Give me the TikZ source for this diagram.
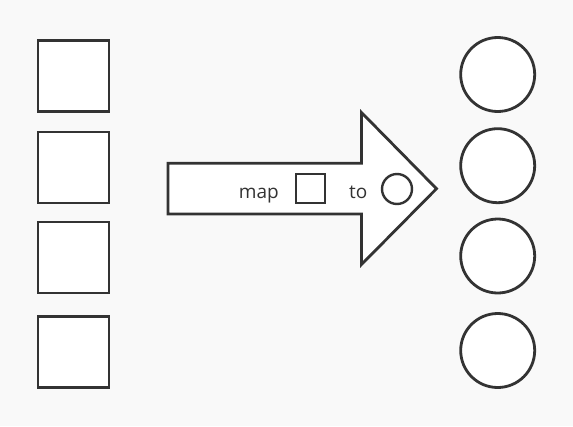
\documentclass[tikz,border=0pt]{standalone}
\usepackage{fontspec}
\setmainfont{Open Sans}
\definecolor{ink}{HTML}{333333}
\definecolor{paper}{HTML}{F9F9F9}

\begin{document}
\begin{tikzpicture}[x=1pt,y=-1pt,
  box/.style={draw=ink,fill=white,line width=2.8pt,minimum size=71pt,inner sep=0pt},
  ring/.style={draw=ink,fill=white,line width=2.8pt,circle,minimum size=74pt,inner sep=0pt},
  word/.style={text=ink,font=\fontsize{19}{22}\selectfont,inner sep=0pt}]
  \fill[paper] (0,0) rectangle (573,426);
  \useasboundingbox (0,0) rectangle (573,426);
  \foreach \i/\y in {1/76,2/167.5,3/257.5,4/352} \node[box] (sq\i) at (73.5,\y) {};
  \foreach \i/\y in {1/74.5,2/165.7,3/256,4/350.5} \node[ring] (ci\i) at (497.7,\y) {};
  % the big arrow
  \draw[ink,fill=white,line width=2.8pt,line join=miter] (168,163.3) -- (361.5,163.3) -- (361.5,112.5)
    -- (436.5,188.7) -- (361.5,264.5) -- (361.5,214) -- (168,214) -- cycle;
  \node[word,anchor=base east] (map) at (279,198.3) {map};
  \node[box,minimum size=29pt,line width=2.4pt] (msq) at (310.5,188.7) {};
  \node[word,anchor=base east] (to) at (367.5,198.3) {to};
  \node[ring,minimum size=30pt,line width=2.4pt] (mci) at (397,189) {};
\end{tikzpicture}
\end{document}
